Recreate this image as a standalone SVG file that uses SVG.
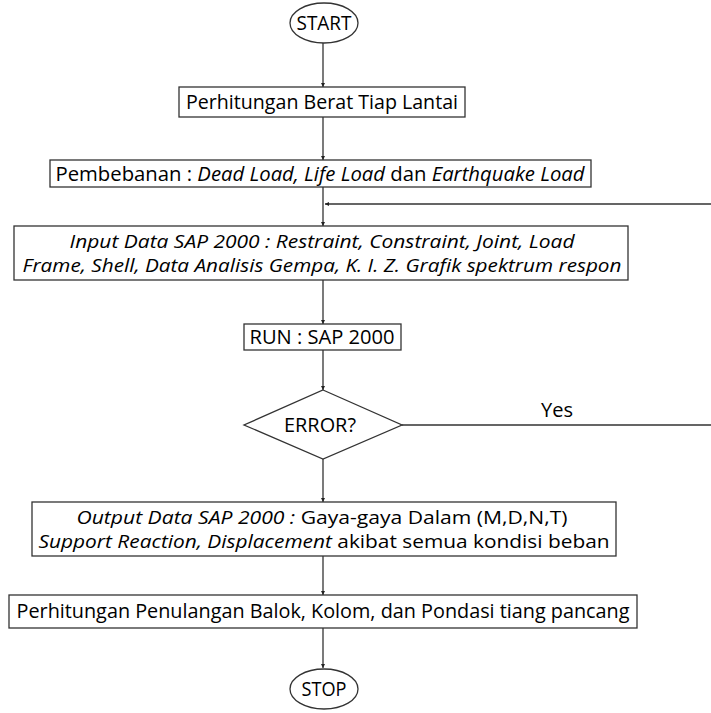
<svg xmlns="http://www.w3.org/2000/svg" width="711" height="713" viewBox="0 0 711 713">
<defs>
<marker id="ah" viewBox="0 0 6 6" refX="6" refY="3" markerWidth="4" markerHeight="4" orient="auto" markerUnits="userSpaceOnUse">
<path d="M0,0 L6,3 L0,6 z" fill="#222"/>
</marker>
</defs>
<style>
.n{fill:#fff;stroke:#333;stroke-width:1.3}
.t{font-family:"Open Sans","Noto Sans","Liberation Sans",sans-serif;font-size:20px;fill:#000;text-anchor:middle}
.s{font-size:17.5px}
.i{font-style:italic}
.c{fill:none;stroke:#333;stroke-width:1.3}
</style>
<rect width="711" height="713" fill="#fff"/>
<g id="connectors">
<line class="c" x1="323" y1="43" x2="323" y2="87" marker-end="url(#ah)"/>
<line class="c" x1="323" y1="117" x2="323" y2="160" marker-end="url(#ah)"/>
<line class="c" x1="323" y1="187" x2="323" y2="226" marker-end="url(#ah)"/>
<path class="c" d="M402,425 H713 V204 H325" marker-end="url(#ah)"/>
<line class="c" x1="323" y1="280" x2="323" y2="324" marker-end="url(#ah)"/>
<line class="c" x1="323" y1="350" x2="323" y2="390" marker-end="url(#ah)"/>
<line class="c" x1="323" y1="459" x2="323" y2="502" marker-end="url(#ah)"/>
<line class="c" x1="323" y1="556" x2="323" y2="595" marker-end="url(#ah)"/>
<line class="c" x1="323" y1="628" x2="323" y2="668" marker-end="url(#ah)"/>
<text class="t" x="557" y="417" textLength="32" lengthAdjust="spacingAndGlyphs">Yes</text>
</g>
<g id="start">
<ellipse class="n" cx="324" cy="23" rx="34" ry="20"/>
<text class="t" x="324" y="30" textLength="55" lengthAdjust="spacingAndGlyphs">START</text>
</g>
<g id="berat">
<rect class="n" x="179" y="87" width="286" height="30"/>
<text class="t" x="322" y="109" textLength="272" lengthAdjust="spacingAndGlyphs">Perhitungan Berat Tiap Lantai</text>
</g>
<g id="pembebanan">
<rect class="n" x="50" y="160" width="541" height="27"/>
<text class="t" x="320" y="181" textLength="529" lengthAdjust="spacingAndGlyphs">Pembebanan : <tspan class="i">Dead Load, Life Load</tspan> dan <tspan class="i">Earthquake Load</tspan></text>
</g>
<g id="input">
<rect class="n" x="14" y="226" width="614" height="54"/>
<text class="t s i" x="322" y="248" textLength="505" lengthAdjust="spacingAndGlyphs">Input Data SAP 2000 : Restraint, Constraint, Joint, Load</text>
<text class="t s i" x="322" y="272" textLength="599" lengthAdjust="spacingAndGlyphs">Frame, Shell, Data Analisis Gempa, K. I. Z. Grafik spektrum respon</text>
</g>
<g id="run">
<rect class="n" x="244" y="324" width="157" height="26"/>
<text class="t" x="322" y="344" textLength="145" lengthAdjust="spacingAndGlyphs">RUN : SAP 2000</text>
</g>
<g id="error">
<polygon class="n" points="323,390 402,425 323,459 244,425"/>
<text class="t" x="320" y="432" textLength="72" lengthAdjust="spacingAndGlyphs">ERROR?</text>
</g>
<g id="output">
<rect class="n" x="32" y="502" width="584" height="54"/>
<text class="t s" x="322" y="524" textLength="491" lengthAdjust="spacingAndGlyphs"><tspan class="i">Output Data SAP 2000 :</tspan> Gaya-gaya Dalam (M,D,N,T)</text>
<text class="t s" x="324" y="548" textLength="571" lengthAdjust="spacingAndGlyphs"><tspan class="i">Support Reaction, Displacement</tspan> akibat semua kondisi beban</text>
</g>
<g id="penulangan">
<rect class="n" x="9" y="595" width="628" height="33"/>
<text class="t" x="323" y="618" textLength="613" lengthAdjust="spacingAndGlyphs">Perhitungan Penulangan Balok, Kolom, dan Pondasi tiang pancang</text>
</g>
<g id="stop">
<ellipse class="n" cx="324" cy="689" rx="34" ry="20"/>
<text class="t" x="324" y="696" textLength="45" lengthAdjust="spacingAndGlyphs">STOP</text>
</g>
</svg>
